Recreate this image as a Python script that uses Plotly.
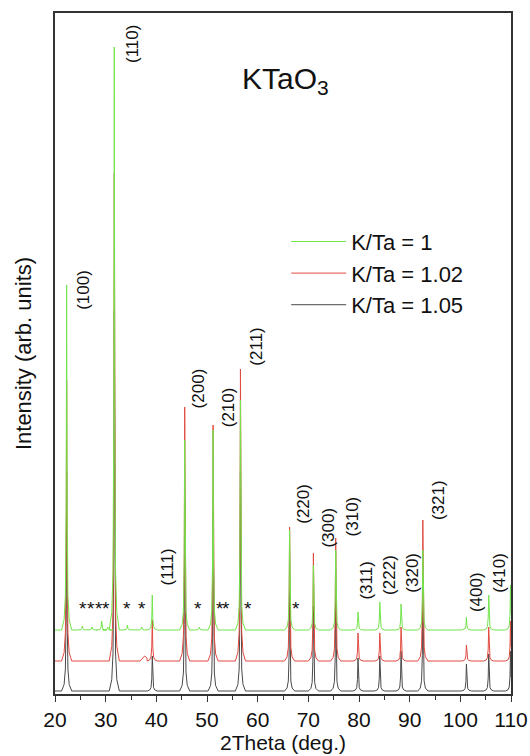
import plotly.graph_objects as go

# ---------------- data ----------------
# Bragg reflections of KTaO3 (2theta, deg.)
peak_pos = [22.3, 31.7, 39.2, 45.6, 51.2, 56.6, 66.3, 71.0, 75.4, 79.8,
            84.1, 88.3, 92.6, 101.2, 105.6, 109.9]
hkl = ["(100)", "(110)", "(111)", "(200)", "(210)", "(211)", "(220)", "(300)",
       "(310)", "(311)", "(222)", "(320)", "(321)", "(400)", "(410)", ""]

# peak heights above each pattern's baseline (arb. units)
h_k100 = [345, 583, 35, 190, 200, 230, 100, 65, 80, 18, 28, 26, 80, 13, 35, 45]
h_k102 = [281, 488, 41, 254, 236, 292, 134, 108, 123, 28, 28, 34, 141, 16, 34, 40]
h_k105 = [220, 380, 35, 190, 180, 220, 100, 85, 95, 33, 35, 40, 102, 27, 37, 40]

# baselines (vertical offsets of the stacked patterns)
base_k100 = 64
base_k102 = 33
base_k105 = 3

# small impurity reflections (marked with *) in the K/Ta = 1 pattern
imp_pos_k100 = [25.4, 27.3, 29.2, 30.4, 34.3, 37.1, 48.5]
imp_h_k100 = [4, 3, 9, 3, 5, 3, 3]
# broad hump in the K/Ta = 1.02 pattern
imp_pos_k102 = [37.7]
imp_h_k102 = [5]

# impurity markers
star_pos = [25.5, 27.1, 28.7, 30.1, 34.2, 37.2, 48.3, 52.6, 53.8, 58.0, 67.5]

# peak label positions (2theta, intensity)
label_x = [25.5, 35.2, 42.2, 48.3, 54.2, 59.6, 68.9, 73.8, 78.7, 81.3,
           85.9, 90.4, 95.6, 103.1, 107.6]
label_y = [404, 650, 127, 306, 287, 347, 190, 166, 178, 113, 119, 121, 194, 102, 121]

series_names = ["K/Ta = 1", "K/Ta = 1.02", "K/Ta = 1.05"]

# ---------------- build line vertices from the peak table ----------------
# drawing profile of a sharp reflection: offsets (deg.) and fraction of height
SHAPE_DX = [-1.0, -0.5, -0.25, -0.1, 0.0, 0.1, 0.25, 0.5, 1.0]
SHAPE_F = [0.0, 0.03, 0.1, 0.35, 1.0, 0.35, 0.1, 0.03, 0.0]
HUMP_DX = [-0.9, -0.45, 0.0, 0.45]
HUMP_F = [0.0, 0.6, 1.0, 0.6]


def pattern(base, pos, heights, extra_pos, extra_h, broad=False,
            xmin=20.0, xmax=110.0):
    items = []
    for p, h in zip(pos, heights):
        items.append((p, h, SHAPE_DX, SHAPE_F))
    for p, h in zip(extra_pos, extra_h):
        if broad:
            items.append((p, h, HUMP_DX, HUMP_F))
        else:
            items.append((p, h, SHAPE_DX, SHAPE_F))
    items.sort(key=lambda t: t[0])
    xs, ys = [xmin], [base]
    for p, h, dx, f in items:
        for d, fr in zip(dx, f):
            x = p + d
            if xmin <= x <= xmax:
                xs.append(x)
                ys.append(base + h * fr)
    if xs[-1] < xmax:
        xs.append(xmax)
        ys.append(base)
    return xs, ys


x1, y1 = pattern(base_k100, peak_pos, h_k100, imp_pos_k100, imp_h_k100)
x2, y2 = pattern(base_k102, peak_pos, h_k102, imp_pos_k102, imp_h_k102, broad=True)
x3, y3 = pattern(base_k105, peak_pos, h_k105, [], [])

GREEN = "#72e44c"
RED = "#e04a40"
BLACK = "#4a4a4a"
FONT = "Liberation Sans, Arial, sans-serif"

fig = go.Figure()
# draw black first, green on top; legend order green, red, black
fig.add_trace(go.Scatter(x=x3, y=y3, mode="lines", name=series_names[2],
                         line=dict(color=BLACK, width=1), legendrank=3))
fig.add_trace(go.Scatter(x=x2, y=y2, mode="lines", name=series_names[1],
                         line=dict(color=RED, width=1), legendrank=2))
fig.add_trace(go.Scatter(x=x1, y=y1, mode="lines", name=series_names[0],
                         line=dict(color=GREEN, width=1), legendrank=1))

# peak labels (rotated)
for t, lx, ly in zip(hkl, label_x, label_y):
    if not t:
        continue
    fig.add_annotation(x=lx, y=ly, xref="x", yref="y", text=t, showarrow=False,
                       textangle=-90, font=dict(family=FONT, size=17, color="#111"))

# impurity stars
for sx in star_pos:
    fig.add_annotation(x=sx, y=86, xref="x", yref="y", text="*", showarrow=False,
                       font=dict(family=FONT, size=19, color="#111"))

# compound name
fig.add_annotation(x=65.5, y=614, xref="x", yref="y", text="KTaO<sub>3</sub>",
                   showarrow=False, font=dict(family=FONT, size=30, color="#111"))

fig.update_layout(
    width=530, height=756,
    margin=dict(l=55, r=19, t=13, b=62),
    paper_bgcolor="white", plot_bgcolor="white",
    font=dict(family=FONT, size=22, color="#111"),
    showlegend=True,
    legend=dict(x=0.507, y=0.695, xanchor="left", yanchor="top",
                bgcolor="rgba(0,0,0,0)", font=dict(family=FONT, size=22, color="#111"),
                tracegroupgap=0, itemwidth=55),
    xaxis=dict(range=[20, 110], dtick=10, tick0=20, ticks="outside", ticklen=6,
               tickwidth=1.2, tickcolor="#333", showline=True, linecolor="#333",
               linewidth=1.5, mirror=True, showgrid=False, zeroline=False,
               automargin=False,
               minor=dict(dtick=5, ticks="outside", ticklen=4, tickcolor="#333",
                          tickwidth=1, showgrid=False),
               title=dict(text="2Theta (deg.)", font=dict(family=FONT, size=21), standoff=0),
               tickfont=dict(family=FONT, size=21)),
    yaxis=dict(range=[0, 681], showticklabels=False, ticks="", showline=True,
               linecolor="#333", linewidth=1.5, mirror=True, showgrid=False,
               zeroline=False, automargin=False,
               title=dict(text="Intensity (arb. units)", font=dict(family=FONT, size=22),
                          standoff=16)),
)

fig.write_html("out.html", config={"displayModeBar": False},
               post_script="document.body.style.margin='0px';")
